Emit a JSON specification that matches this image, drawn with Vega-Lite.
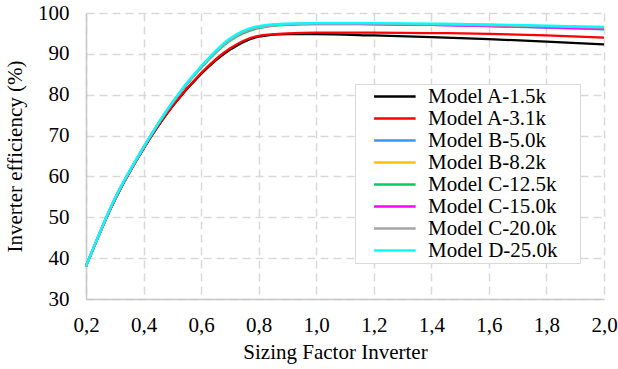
{
  "$schema": "https://vega.github.io/schema/vega-lite/v6.json",
  "autosize": {"type": "none"},
  "padding": {"left": 86, "top": 13, "right": 14, "bottom": 70},
  "width": 518,
  "height": 286,
  "background": "white",
  "config": {
    "view": {"stroke": null},
    "font": "Liberation Serif"
  },
  "datasets": {
    "curves": [
      {"model": "Model A-1.5k", "x": 0.2, "y": 38.0}, {"model": "Model A-1.5k", "x": 0.3, "y": 54.2}, {"model": "Model A-1.5k", "x": 0.4, "y": 66.8}, {"model": "Model A-1.5k", "x": 0.5, "y": 77.1}, {"model": "Model A-1.5k", "x": 0.6, "y": 85.1}, {"model": "Model A-1.5k", "x": 0.7, "y": 91.0}, {"model": "Model A-1.5k", "x": 0.8, "y": 94.2}, {"model": "Model A-1.5k", "x": 0.9, "y": 94.8}, {"model": "Model A-1.5k", "x": 1.0, "y": 94.8}, {"model": "Model A-1.5k", "x": 1.2, "y": 94.5}, {"model": "Model A-1.5k", "x": 1.4, "y": 94.1}, {"model": "Model A-1.5k", "x": 1.6, "y": 93.6}, {"model": "Model A-1.5k", "x": 1.8, "y": 93.0}, {"model": "Model A-1.5k", "x": 2.0, "y": 92.3},
      {"model": "Model A-3.1k", "x": 0.2, "y": 38.0}, {"model": "Model A-3.1k", "x": 0.3, "y": 54.2}, {"model": "Model A-3.1k", "x": 0.4, "y": 66.8}, {"model": "Model A-3.1k", "x": 0.5, "y": 77.2}, {"model": "Model A-3.1k", "x": 0.6, "y": 85.3}, {"model": "Model A-3.1k", "x": 0.7, "y": 91.3}, {"model": "Model A-3.1k", "x": 0.8, "y": 94.4}, {"model": "Model A-3.1k", "x": 0.9, "y": 95.0}, {"model": "Model A-3.1k", "x": 1.0, "y": 95.2}, {"model": "Model A-3.1k", "x": 1.2, "y": 95.2}, {"model": "Model A-3.1k", "x": 1.4, "y": 95.1}, {"model": "Model A-3.1k", "x": 1.6, "y": 94.9}, {"model": "Model A-3.1k", "x": 1.8, "y": 94.5}, {"model": "Model A-3.1k", "x": 2.0, "y": 94.0},
      {"model": "Model B-5.0k", "x": 0.2, "y": 38.0}, {"model": "Model B-5.0k", "x": 0.3, "y": 54.5}, {"model": "Model B-5.0k", "x": 0.4, "y": 67.1}, {"model": "Model B-5.0k", "x": 0.5, "y": 78.0}, {"model": "Model B-5.0k", "x": 0.6, "y": 86.8}, {"model": "Model B-5.0k", "x": 0.7, "y": 93.6}, {"model": "Model B-5.0k", "x": 0.8, "y": 96.6}, {"model": "Model B-5.0k", "x": 0.9, "y": 97.3}, {"model": "Model B-5.0k", "x": 1.0, "y": 97.4}, {"model": "Model B-5.0k", "x": 1.2, "y": 97.3}, {"model": "Model B-5.0k", "x": 1.4, "y": 97.1}, {"model": "Model B-5.0k", "x": 1.6, "y": 96.8}, {"model": "Model B-5.0k", "x": 1.8, "y": 96.4}, {"model": "Model B-5.0k", "x": 2.0, "y": 96.0},
      {"model": "Model B-8.2k", "x": 0.2, "y": 38.0}, {"model": "Model B-8.2k", "x": 0.3, "y": 54.5}, {"model": "Model B-8.2k", "x": 0.4, "y": 67.1}, {"model": "Model B-8.2k", "x": 0.5, "y": 78.0}, {"model": "Model B-8.2k", "x": 0.6, "y": 86.8}, {"model": "Model B-8.2k", "x": 0.7, "y": 93.5}, {"model": "Model B-8.2k", "x": 0.8, "y": 96.5}, {"model": "Model B-8.2k", "x": 0.9, "y": 97.2}, {"model": "Model B-8.2k", "x": 1.0, "y": 97.3}, {"model": "Model B-8.2k", "x": 1.2, "y": 97.3}, {"model": "Model B-8.2k", "x": 1.4, "y": 97.1}, {"model": "Model B-8.2k", "x": 1.6, "y": 96.9}, {"model": "Model B-8.2k", "x": 1.8, "y": 96.6}, {"model": "Model B-8.2k", "x": 2.0, "y": 96.3},
      {"model": "Model C-12.5k", "x": 0.2, "y": 38.0}, {"model": "Model C-12.5k", "x": 0.3, "y": 54.4}, {"model": "Model C-12.5k", "x": 0.4, "y": 67.0}, {"model": "Model C-12.5k", "x": 0.5, "y": 77.9}, {"model": "Model C-12.5k", "x": 0.6, "y": 86.6}, {"model": "Model C-12.5k", "x": 0.7, "y": 93.2}, {"model": "Model C-12.5k", "x": 0.8, "y": 96.3}, {"model": "Model C-12.5k", "x": 0.9, "y": 97.1}, {"model": "Model C-12.5k", "x": 1.0, "y": 97.3}, {"model": "Model C-12.5k", "x": 1.2, "y": 97.3}, {"model": "Model C-12.5k", "x": 1.4, "y": 97.2}, {"model": "Model C-12.5k", "x": 1.6, "y": 97.0}, {"model": "Model C-12.5k", "x": 1.8, "y": 96.7}, {"model": "Model C-12.5k", "x": 2.0, "y": 96.4},
      {"model": "Model C-15.0k", "x": 0.2, "y": 38.0}, {"model": "Model C-15.0k", "x": 0.3, "y": 54.5}, {"model": "Model C-15.0k", "x": 0.4, "y": 67.1}, {"model": "Model C-15.0k", "x": 0.5, "y": 78.0}, {"model": "Model C-15.0k", "x": 0.6, "y": 86.8}, {"model": "Model C-15.0k", "x": 0.7, "y": 93.5}, {"model": "Model C-15.0k", "x": 0.8, "y": 96.6}, {"model": "Model C-15.0k", "x": 0.9, "y": 97.3}, {"model": "Model C-15.0k", "x": 1.0, "y": 97.4}, {"model": "Model C-15.0k", "x": 1.2, "y": 97.3}, {"model": "Model C-15.0k", "x": 1.4, "y": 97.1}, {"model": "Model C-15.0k", "x": 1.6, "y": 96.8}, {"model": "Model C-15.0k", "x": 1.8, "y": 96.5}, {"model": "Model C-15.0k", "x": 2.0, "y": 96.2},
      {"model": "Model C-20.0k", "x": 0.2, "y": 38.0}, {"model": "Model C-20.0k", "x": 0.3, "y": 54.5}, {"model": "Model C-20.0k", "x": 0.4, "y": 67.1}, {"model": "Model C-20.0k", "x": 0.5, "y": 78.0}, {"model": "Model C-20.0k", "x": 0.6, "y": 86.7}, {"model": "Model C-20.0k", "x": 0.7, "y": 93.4}, {"model": "Model C-20.0k", "x": 0.8, "y": 96.5}, {"model": "Model C-20.0k", "x": 0.9, "y": 97.2}, {"model": "Model C-20.0k", "x": 1.0, "y": 97.4}, {"model": "Model C-20.0k", "x": 1.2, "y": 97.4}, {"model": "Model C-20.0k", "x": 1.4, "y": 97.2}, {"model": "Model C-20.0k", "x": 1.6, "y": 97.0}, {"model": "Model C-20.0k", "x": 1.8, "y": 96.7}, {"model": "Model C-20.0k", "x": 2.0, "y": 96.4},
      {"model": "Model D-25.0k", "x": 0.2, "y": 38.0}, {"model": "Model D-25.0k", "x": 0.3, "y": 54.6}, {"model": "Model D-25.0k", "x": 0.4, "y": 67.2}, {"model": "Model D-25.0k", "x": 0.5, "y": 78.2}, {"model": "Model D-25.0k", "x": 0.6, "y": 87.0}, {"model": "Model D-25.0k", "x": 0.7, "y": 93.8}, {"model": "Model D-25.0k", "x": 0.8, "y": 96.8}, {"model": "Model D-25.0k", "x": 0.9, "y": 97.4}, {"model": "Model D-25.0k", "x": 1.0, "y": 97.5}, {"model": "Model D-25.0k", "x": 1.2, "y": 97.5}, {"model": "Model D-25.0k", "x": 1.4, "y": 97.4}, {"model": "Model D-25.0k", "x": 1.6, "y": 97.2}, {"model": "Model D-25.0k", "x": 1.8, "y": 96.9}, {"model": "Model D-25.0k", "x": 2.0, "y": 96.6}
    ]
  },
  "data": {"name": "curves"},
  "mark": {"type": "line", "interpolate": "monotone", "strokeWidth": 2.25, "clip": false},
  "encoding": {
    "x": {
      "field": "x", "type": "quantitative",
      "scale": {"domain": [0.2, 2.0], "nice": false, "zero": false},
      "axis": {
        "title": "Sizing Factor Inverter",
        "values": [0.2, 0.4, 0.6, 0.8, 1.0, 1.2, 1.4, 1.6, 1.8, 2.0],
        "labelExpr": "replace(format(datum.value, '.1f'), '.', ',')",
        "labelFont": "Liberation Serif",
        "labelFontSize": 21, "labelColor": "#000000", "labelPadding": 15,
        "labelFlush": false, "labelOverlap": false,
        "ticks": false,
        "domainColor": "#c8c8c8", "domainWidth": 1.5,
        "grid": true, "gridColor": "#d9d9d9", "gridWidth": 1.5, "gridDash": [8, 5],
        "titleFont": "Liberation Serif",
        "titleFontSize": 21, "titleFontWeight": "normal", "titleColor": "#000000", "titlePadding": 6,
        "titleX": 249
      }
    },
    "y": {
      "field": "y", "type": "quantitative",
      "scale": {"domain": [30, 100], "nice": false, "zero": false},
      "axis": {
        "title": "Inverter efficiency (%)",
        "values": [30, 40, 50, 60, 70, 80, 90, 100],
        "labelFont": "Liberation Serif",
        "labelFontSize": 21, "labelColor": "#000000", "labelPadding": 17,
        "labelFlush": false, "labelOverlap": false,
        "ticks": false,
        "domainColor": "#c8c8c8", "domainWidth": 1.5,
        "grid": true, "gridColor": "#d9d9d9", "gridWidth": 1.5, "gridDash": [8, 5],
        "titleFont": "Liberation Serif",
        "titleFontSize": 21, "titleFontWeight": "normal", "titleColor": "#000000", "titlePadding": 12
      }
    },
    "color": {
      "field": "model", "type": "nominal",
      "scale": {
        "domain": ["Model A-1.5k", "Model A-3.1k", "Model B-5.0k", "Model B-8.2k", "Model C-12.5k", "Model C-15.0k", "Model C-20.0k", "Model D-25.0k"],
        "range": ["#000000", "#FF0000", "#3399FF", "#FFC000", "#00CC66", "#FF00FF", "#A6A6A6", "#00FFFF"]
      },
      "legend": {
        "title": null,
        "orient": "none",
        "legendX": 269,
        "legendY": 71,
        "padding": 2,
        "rowPadding": 0,
        "fillColor": "#ffffff",
        "strokeColor": "#d9d9d9",
        "symbolType": "M-4,0H4",
        "symbolSize": 107.8,
        "symbolStrokeWidth": 2.5,
        "symbolOffset": 27.35,
        "labelOffset": 22.7,
        "labelFont": "Liberation Serif",
        "labelFontSize": 21,
        "labelColor": "#000000",
        "labelLimit": 400,
        "labelExpr": "datum.label + '\u00a0\u2800'"
      }
    }
  }
}
